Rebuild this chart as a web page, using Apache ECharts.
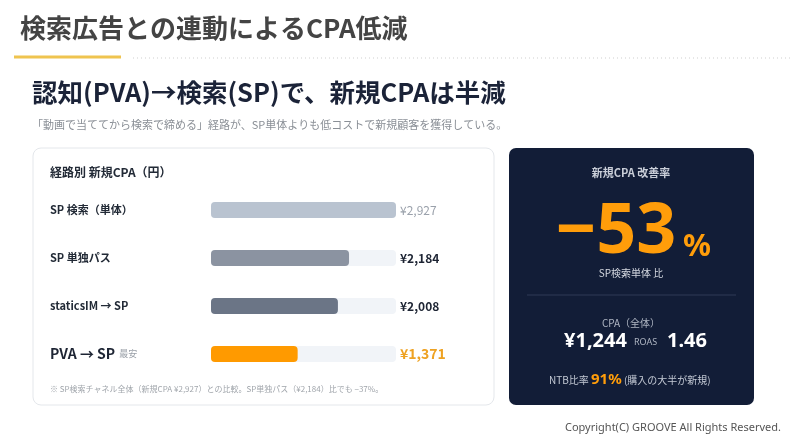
<!DOCTYPE html>
<html><head><meta charset="utf-8">
<script src="https://cdn.jsdelivr.net/npm/echarts@6/dist/echarts.min.js"></script>
<style>html,body{margin:0;padding:0;background:#fff}#c{width:791px;height:444px}</style>
</head><body><div id="c"></div>
<script>
const categories = ['SP 検索（単体）', 'SP 単独パス', 'staticsIM → SP', 'PVA → SP'];
const cpaValues = [2927, 2184, 2008, 1371];
const maxValue = 2927;
const improvementText = '−53';
const cpaTotal = '¥1,244';
const roas = '1.46';
const ntb = '91%';

const FONT = '"Noto Sans CJK JP", "Noto Sans", sans-serif';
const barColors = ['#b9c3d0', '#8b93a1', '#6b7586', '#ff9a00'];
const valueStyles = ['vGray', 'vDark', 'vDark', 'vOrange'];

const chart = echarts.init(document.getElementById('c'), null, {renderer: 'canvas'});

const fmtYen = v => '¥' + v.toLocaleString('en-US');

const option = {
  animation: false,
  backgroundColor: '#ffffff',
  textStyle: {fontFamily: FONT},
  grid: {left: 211, width: 185, top: 186, height: 192, containLabel: false},
  xAxis: {type: 'value', min: 0, max: maxValue, show: false},
  yAxis: {
    type: 'category', data: categories, inverse: true,
    axisLine: {show: false}, axisTick: {show: false}, splitLine: {show: false},
    axisLabel: {
      align: 'left', margin: 161, fontFamily: FONT,
      formatter: (v, i) => i === 3 ? '{big|' + v + '}{tag|  最安}' : '{lab|' + v + '}',
      rich: {
        lab: {fontSize: 11, fontWeight: 'bold', color: '#222a36', fontFamily: FONT},
        big: {fontSize: 14, fontWeight: 'bold', color: '#1d2433', fontFamily: FONT},
        tag: {fontSize: 9, color: '#9aa0a8', fontFamily: FONT}
      }
    }
  },
  series: [
    {
      type: 'bar', barWidth: 16, barGap: '-100%', silent: true,
      data: cpaValues.map(() => maxValue),
      itemStyle: {color: '#f1f4f8', borderRadius: 4},
      label: {
        show: true, position: 'right', distance: 4,
        formatter: p => '{' + valueStyles[p.dataIndex] + '|' + fmtYen(cpaValues[p.dataIndex]) + '}',
        rich: {
          vGray: {fontSize: 12, color: '#9aa1ab', fontFamily: FONT},
          vDark: {fontSize: 12, fontWeight: 'bold', color: '#1d2433', fontFamily: FONT},
          vOrange: {fontSize: 14, fontWeight: 'bold', color: '#eea222', fontFamily: FONT}
        }
      },
      z: 1
    },
    {
      type: 'bar', barWidth: 16, silent: true,
      data: cpaValues.map((v, i) => ({value: v, itemStyle: {color: barColors[i]}})),
      itemStyle: {borderRadius: 4},
      z: 2
    }
  ],
  graphic: [
    // Header
    {type: 'text', x: 20, y: 28, style: {text: '検索広告との連動によるCPA低減', font: 'bold 26px ' + FONT, fill: '#444444', verticalAlign: 'middle'}},
    {type: 'line', shape: {x1: 14, y1: 57, x2: 121, y2: 57}, style: {stroke: '#efc44f', lineWidth: 3}},
    {type: 'line', shape: {x1: 133, y1: 58, x2: 791, y2: 58}, style: {stroke: '#cfcfcf', lineWidth: 1, lineDash: [1, 3]}},
    {type: 'text', x: 32, y: 92, style: {text: '認知(PVA)→検索(SP)で、新規CPAは半減', font: 'bold 25.5px ' + FONT, fill: '#1b2338', verticalAlign: 'middle'}},
    {type: 'text', x: 32, y: 125, style: {text: '「動画で当ててから検索で締める」経路が、SP単体よりも低コストで新規顧客を獲得している。', font: '11px ' + FONT, fill: '#8a8f96', verticalAlign: 'middle'}},
    // Left card
    {type: 'rect', shape: {x: 33, y: 148, width: 461, height: 257, r: 8}, style: {fill: '#ffffff', stroke: '#e4e7eb', lineWidth: 1}, z: -10},
    {type: 'text', x: 50, y: 172, style: {text: '経路別 新規CPA（円）', font: 'bold 12px ' + FONT, fill: '#222a36', verticalAlign: 'middle'}},
    {type: 'text', x: 50, y: 389, style: {text: '※ SP検索チャネル全体（新規CPA ¥2,927）との比較。SP単独パス（¥2,184）比でも −37%。', font: '8px ' + FONT, fill: '#a0a5ab', verticalAlign: 'middle'}},
    // Right card
    {type: 'rect', shape: {x: 509, y: 148, width: 245, height: 257, r: 7}, style: {fill: '#121d37'}, z: -10},
    {type: 'text', x: 631, y: 173, style: {text: '新規CPA 改善率', font: 'bold 11px ' + FONT, fill: '#c9ced8', align: 'center', verticalAlign: 'middle'}},
    {type: 'text', x: 616, y: 233, style: {text: improvementText, font: 'bold 70px "Noto Sans", ' + FONT, fill: '#ff9d0a', align: 'center', verticalAlign: 'middle'}},
    {type: 'text', x: 683, y: 247, style: {text: '%', font: 'bold 31px "Noto Sans", ' + FONT, fill: '#ff9d0a', align: 'left', verticalAlign: 'middle'}},
    {type: 'text', x: 631, y: 273, style: {text: 'SP検索単体 比', font: '10px ' + FONT, fill: '#d5d9e1', align: 'center', verticalAlign: 'middle'}},
    {type: 'line', shape: {x1: 527, y1: 295, x2: 736, y2: 295}, style: {stroke: '#2e3a56', lineWidth: 1}},
    {type: 'text', x: 631, y: 323, style: {text: 'CPA（全体）', font: '10px ' + FONT, fill: '#aeb5c2', align: 'center', verticalAlign: 'middle'}},
    {type: 'text', x: 564, y: 341, style: {text: cpaTotal, font: 'bold 20px "Noto Sans", ' + FONT, fill: '#ffffff', align: 'left', verticalAlign: 'middle'}},
    {type: 'text', x: 634, y: 342, style: {text: 'ROAS', font: '9px "Noto Sans", ' + FONT, fill: '#aeb5c2', align: 'left', verticalAlign: 'middle'}},
    {type: 'text', x: 667, y: 341, style: {text: roas, font: 'bold 20px "Noto Sans", ' + FONT, fill: '#ffffff', align: 'left', verticalAlign: 'middle'}},
    {type: 'text', x: 549, y: 380, style: {
      text: '{a|NTB比率 }{b|' + ntb + '}{a| (購入の大半が新規)}',
      align: 'left', verticalAlign: 'middle',
      rich: {
        a: {fontSize: 10, fontFamily: FONT, fill: '#c3c9d4'},
        b: {fontSize: 15, fontWeight: 'bold', fontFamily: '"Noto Sans", ' + FONT, fill: '#ff9d0a'}
      }
    }},
    // Footer
    {type: 'text', right: 10, top: 422, style: {text: 'Copyright(C) GROOVE All Rights Reserved.', font: '11px "Noto Sans", ' + FONT, fill: '#555555'}}
  ]
};
chart.setOption(option);
</script>
</body></html>
